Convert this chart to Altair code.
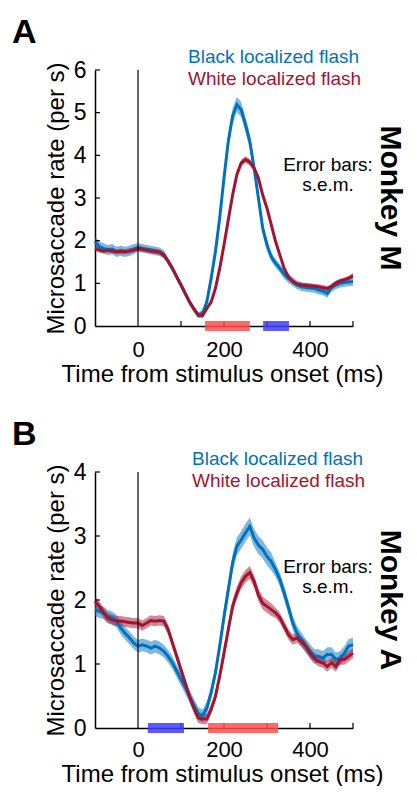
import altair as alt
import pandas as pd

FONT = "Liberation Sans"
BLUE = "#0072bd"
RED = "#a2142f"
SERIES = ["Black localized flash", "White localized flash"]

# time axis (ms), 10 ms step
t = list(range(-100, 501, 10))

# ---- Panel A (Monkey M) ----
a_black = [1.98, 1.86, 1.82, 1.78, 1.80, 1.74, 1.76, 1.74, 1.76, 1.80,
           1.84, 1.82, 1.80, 1.78, 1.76, 1.74, 1.68, 1.52, 1.35, 1.15,
           0.96, 0.76, 0.56, 0.40, 0.26, 0.30, 0.56, 1.11, 1.74, 2.53,
           3.47, 4.33, 4.92, 5.19, 5.07, 4.72, 4.33, 3.70, 3.00, 2.29,
           1.90, 1.62, 1.47, 1.35, 1.21, 1.11, 1.04, 0.96, 0.92, 0.90,
           0.89, 0.88, 0.84, 0.82, 0.76, 0.90, 0.96, 1.00, 1.02, 1.03, 1.04]
a_white = [1.82, 1.78, 1.76, 1.78, 1.76, 1.74, 1.75, 1.74, 1.76, 1.78,
           1.82, 1.80, 1.78, 1.76, 1.75, 1.73, 1.66, 1.52, 1.35, 1.15,
           0.96, 0.76, 0.56, 0.40, 0.25, 0.24, 0.41, 0.56, 0.88, 1.35,
           1.90, 2.49, 3.07, 3.55, 3.82, 3.90, 3.84, 3.70, 3.47, 3.07,
           2.76, 2.37, 1.98, 1.66, 1.35, 1.15, 1.04, 0.98, 0.96, 0.95,
           0.94, 0.93, 0.92, 0.90, 0.88, 0.92, 1.00, 1.05, 1.08, 1.12, 1.18]
a_black_sem = [0.12] * 10 + [0.10] * 7 + [0.07] * 9 + [0.10] * 5 + [0.18] * 6 + [0.14] * 4 + [0.10] * 20
a_white_sem = [0.06] * 21 + [0.05] * 10 + [0.08] * 10 + [0.06] * 20
a_bars_start = [156, 291]
a_bars_end = [260, 351]
a_bars_color = ["#ff4d4d", "#3d3dff"]

# ---- Panel B (Monkey A) ----
b_black = [1.85, 1.82, 1.80, 1.74, 1.72, 1.67, 1.56, 1.48, 1.41, 1.33,
           1.28, 1.30, 1.28, 1.25, 1.28, 1.25, 1.20, 1.12, 1.02, 0.89,
           0.76, 0.63, 0.49, 0.36, 0.23, 0.19, 0.31, 0.55, 0.86, 1.28,
           1.74, 2.16, 2.58, 2.84, 2.94, 3.05, 3.15, 2.97, 2.86, 2.79,
           2.68, 2.60, 2.47, 2.32, 2.11, 1.88, 1.64, 1.48, 1.38, 1.28,
           1.20, 1.12, 1.12, 1.09, 1.15, 1.15, 1.07, 1.09, 1.17, 1.28, 1.30]
b_white = [1.98, 1.90, 1.80, 1.72, 1.69, 1.67, 1.67, 1.66, 1.65, 1.64,
           1.64, 1.60, 1.64, 1.68, 1.67, 1.68, 1.67, 1.54, 1.33, 1.12,
           0.91, 0.70, 0.49, 0.31, 0.16, 0.14, 0.14, 0.29, 0.49, 0.81,
           1.17, 1.54, 1.90, 2.11, 2.27, 2.37, 2.43, 2.29, 2.08, 1.95,
           1.90, 1.85, 1.80, 1.72, 1.59, 1.46, 1.38, 1.41, 1.35, 1.28,
           1.17, 1.09, 1.04, 1.02, 0.96, 1.02, 0.96, 1.07, 1.07, 1.12, 1.17]
b_black_sem = [0.10] * 30 + [0.14] * 12 + [0.11] * 19
b_white_sem = [0.08] * 30 + [0.10] * 12 + [0.08] * 19
b_bars_start = [23, 163]
b_bars_end = [107, 326]
b_bars_color = ["#3d3dff", "#ff4d4d"]

x_ticks = [100, 200, 300, 400, 500]
W, H = 258, 256


def panel(letter, monkey, black, white, bsem, wsem, ymax,
          bars_s, bars_e, bars_c, legend_x, title_y, label_pad):
    rows = []
    for name, vals, sems in [(SERIES[0], black, bsem), (SERIES[1], white, wsem)]:
        for ti, v, s in zip(t, vals, sems):
            rows.append({"t": ti, "rate": v, "lo": v - s, "hi": v + s, "cond": name})
    df = pd.DataFrame(rows)
    xs = alt.Scale(domain=[-100, 500], nice=False, zero=False)
    ys = alt.Scale(domain=[0, ymax], nice=False)
    col = alt.Color("cond:N", scale=alt.Scale(domain=SERIES, range=[BLUE, RED]), legend=None)
    xaxis = alt.Axis(values=[0, 200, 400], format="d", ticks=False, grid=False,
                     labelFontSize=22, labelFont=FONT, labelColor="black",
                     labelPadding=label_pad, domainColor="black", domainWidth=1.5,
                     title="Time from stimulus onset (ms)", titleFont=FONT,
                     titleFontSize=24, titleFontWeight="normal", titleColor="black",
                     titleX=127, titleY=title_y, titleBaseline="alphabetic")
    yaxis = alt.Axis(values=list(range(0, ymax + 1)), format="d", ticks=False, grid=False,
                     labelFontSize=23, labelFont=FONT, labelColor="black",
                     labelPadding=9, domainColor="black", domainWidth=1.5,
                     title="Microsaccade rate (per s)", titleFont=FONT,
                     titleFontSize=24, titleFontWeight="normal", titleColor="black",
                     titleX=-32, titleY=H / 2, titleAngle=-90,
                     titleBaseline="alphabetic", titleAlign="center")
    base = alt.Chart(df)
    band = base.mark_area(opacity=0.5).encode(
        x=alt.X("t:Q", scale=xs, axis=xaxis),
        y=alt.Y("lo:Q", scale=ys, axis=yaxis),
        y2="hi:Q", color=col, detail="cond:N")
    line = base.mark_line(strokeWidth=3).encode(
        x=alt.X("t:Q", scale=xs), y=alt.Y("rate:Q", scale=ys), color=col)
    vline = alt.Chart(pd.DataFrame({"t": [0], "y0": [0], "y1": [ymax]})).mark_rule(
        color="black", strokeWidth=1.2).encode(
        x=alt.X("t:Q", scale=xs), y=alt.Y("y0:Q", scale=ys), y2="y1:Q")
    xt = alt.Chart(pd.DataFrame({"t": x_ticks})).mark_rule(
        color="black", strokeWidth=1.2).encode(
        x=alt.X("t:Q", scale=xs), y=alt.value(H), y2=alt.value(H - 5))
    yt = alt.Chart(pd.DataFrame({"v": list(range(1, ymax + 1))})).mark_rule(
        color="black", strokeWidth=1.2).encode(
        y=alt.Y("v:Q", scale=ys), x=alt.value(0), x2=alt.value(5))
    bars = alt.Chart(pd.DataFrame({"s": bars_s, "e": bars_e, "c": bars_c})).mark_rect(
        opacity=0.85).encode(
        x=alt.X("s:Q", scale=xs), x2="e:Q", y=alt.value(H - 5), y2=alt.value(H + 5),
        color=alt.Color("c:N", scale=None))

    def txt(s, x, y, size, color="black", weight="normal", align="left",
            baseline="alphabetic", angle=0):
        return alt.Chart(pd.DataFrame({"s": [s]})).mark_text(
            font=FONT, fontSize=size, color=color, fontWeight=weight,
            align=align, baseline=baseline, angle=angle).encode(
            text="s:N", x=alt.value(x), y=alt.value(y))

    texts = [
        txt(letter, -83, -27, 34, weight="bold"),
        txt(SERIES[0], legend_x, -7, 19, color=BLUE),
        txt(SERIES[1], legend_x, 15, 19, color=RED),
        txt("Error bars:", 233, 101, 19, align="center"),
        txt("s.e.m.", 233, 121, 19, align="center"),
        txt(monkey, 295, 128, 30, weight="bold", align="center",
            baseline="middle", angle=90),
    ]
    return alt.layer(band, line, vline, xt, yt, bars, *texts).properties(width=W, height=H)


pa = panel("A", "Monkey M", a_black, a_white, a_black_sem, a_white_sem, 6,
           a_bars_start, a_bars_end, a_bars_color, 93, 55, 13)
pb = panel("B", "Monkey A", b_black, b_white, b_black_sem, b_white_sem, 4,
           b_bars_start, b_bars_end, b_bars_color, 97, 53, 11)

chart = alt.vconcat(pa, pb, spacing=146, bounds="flush").properties(
    padding={"left": 4, "top": 8, "right": 4, "bottom": 0}
).configure_view(stroke=None)

chart.save("out.html", embed_options={"renderer": "svg", "actions": False})
